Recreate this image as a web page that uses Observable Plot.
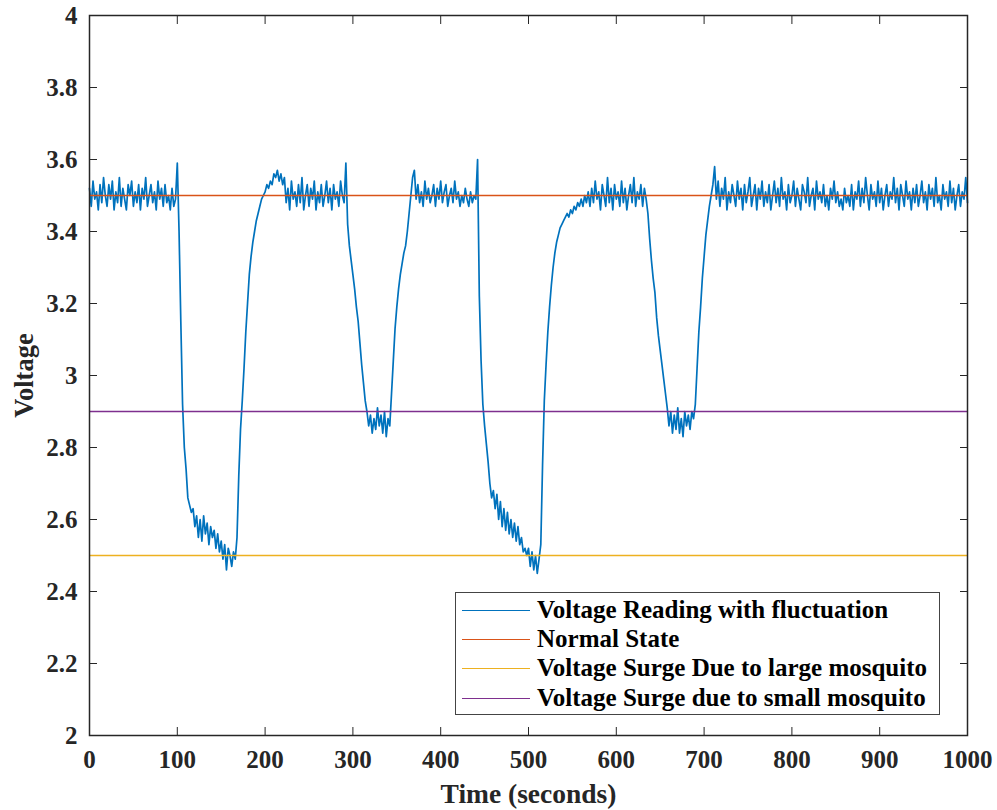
<!DOCTYPE html>
<html>
<head>
<meta charset="utf-8">
<script src="https://cdn.jsdelivr.net/npm/d3@7"></script>
<script src="https://cdn.jsdelivr.net/npm/@observablehq/plot@0.6"></script>
<style>
  html, body { margin: 0; padding: 0; background: #fff; }
  #wrap { position: relative; width: 997px; height: 810px; }
  #legend { position: absolute; left: 455px; top: 592px; width: 483px; height: 121px;
    border: 1.5px solid #444; background: #fff; box-sizing: content-box; }
  .row { position: absolute; left: 0; height: 30px; display: flex; align-items: center; white-space: nowrap; }
  .sw { width: 68px; height: 0; margin-left: 6px; border-top: 1.6px solid; }
  .lab { margin-left: 7px; font-family: "Liberation Serif", serif; font-weight: bold; font-size: 25px; color: #000; }
</style>
</head>
<body>
<div id="wrap"></div>
<script>
const xTicks = [0, 100, 200, 300, 400, 500, 600, 700, 800, 900, 1000];
const yTicks = [2, 2.2, 2.4, 2.6, 2.8, 3, 3.2, 3.4, 3.6, 3.8, 4];

const normalLevel = [3.5];
const largeLevel = [2.5];
const smallLevel = [2.9];

const seriesNames = [
  "Voltage Reading with fluctuation",
  "Normal State",
  "Voltage Surge Due to large mosquito",
  "Voltage Surge due to small mosquito"
];
const seriesColors = ["#0072BD", "#D95319", "#EDB120", "#7E2F8E"];

const segmentStarts = [0, 100, 224, 292, 374, 442, 572, 636, 716];

const seg1 = [3.52,3.47,3.54,3.49,3.51,3.46,3.53,3.48,3.55,3.50,
  3.47,3.53,3.49,3.54,3.46,3.51,3.48,3.55,3.47,3.52,
  3.49,3.46,3.53,3.50,3.54,3.47,3.51,3.48,3.53,3.46,
  3.52,3.49,3.55,3.47,3.50,3.53,3.48,3.51,3.46,3.54,
  3.49,3.52,3.47,3.53,3.48,3.50,3.46,3.52,3.47,3.49];
const seg2 = [3.59,3.40,3.15,2.92,2.80,2.74,2.66,2.64,2.62,2.63,
  2.58,2.61,2.55,2.60,2.54,2.61,2.56,2.59,2.53,2.58,
  2.55,2.57,2.52,2.56,2.51,2.54,2.49,2.53,2.46,2.52,
  2.50,2.47,2.51,2.49,2.55,2.72,2.85,2.93,3.02,3.12,
  3.20,3.28,3.33,3.37,3.40,3.43,3.45,3.47,3.49,3.50,
  3.51,3.53,3.52,3.54,3.53,3.56,3.55,3.57,3.54,3.56,
  3.53,3.55];
const seg3 = [3.48,3.52,3.46,3.54,3.49,3.51,3.47,3.53,3.48,3.55,
  3.46,3.50,3.53,3.47,3.52,3.49,3.54,3.46,3.51,3.48,
  3.53,3.47,3.50,3.54,3.48,3.52,3.46,3.53,3.49,3.51,
  3.47,3.54,3.50,3.48];
const seg4 = [3.59,3.42,3.36,3.32,3.28,3.24,3.19,3.15,3.09,3.03,
  2.98,2.93,2.90,2.86,2.89,2.84,2.88,2.85,2.91,2.86,
  2.89,2.84,2.90,2.83,2.88,2.86,2.95,3.04,3.13,3.19,
  3.24,3.28,3.31,3.34,3.36,3.40,3.45,3.50,3.55,3.57,
  3.49];
const seg5 = [3.53,3.48,3.51,3.47,3.54,3.49,3.52,3.48,3.50,3.53,
  3.47,3.52,3.49,3.54,3.48,3.51,3.53,3.47,3.50,3.52,
  3.48,3.54,3.49,3.51,3.47,3.50,3.48,3.52,3.49,3.47,
  3.51,3.48,3.50,3.49];
const seg6 = [3.60,3.22,3.04,2.92,2.86,2.81,2.76,2.70,2.66,2.68,
  2.63,2.67,2.60,2.65,2.58,2.63,2.57,2.62,2.56,2.60,
  2.55,2.59,2.54,2.58,2.53,2.55,2.51,2.52,2.50,2.52,
  2.47,2.51,2.46,2.50,2.45,2.49,2.53,2.75,2.93,3.03,
  3.12,3.19,3.25,3.30,3.34,3.37,3.39,3.41,3.42,3.43,
  3.44,3.45,3.44,3.46,3.45,3.47,3.46,3.48,3.47,3.49,
  3.47,3.50,3.48,3.51,3.47];
const seg7 = [3.52,3.48,3.54,3.49,3.51,3.46,3.53,3.50,3.47,3.55,
  3.48,3.52,3.46,3.53,3.49,3.51,3.47,3.54,3.48,3.52,
  3.46,3.50,3.53,3.48,3.55,3.47,3.51,3.49,3.53,3.47,
  3.52,3.49];
const seg8 = [3.45,3.38,3.32,3.27,3.23,3.16,3.11,3.07,3.03,2.99,
  2.95,2.91,2.86,2.90,2.84,2.89,2.85,2.91,2.84,2.88,
  2.83,2.90,2.86,2.89,2.85,2.90,2.88,2.92,3.02,3.12,
  3.19,3.27,3.33,3.39,3.43,3.47,3.50,3.53,3.58,3.49];
const seg9 = [3.54,3.47,3.52,3.49,3.55,3.46,3.51,3.48,3.53,3.50,
  3.47,3.54,3.49,3.52,3.46,3.53,3.48,3.51,3.55,3.47,
  3.50,3.53,3.46,3.52,3.49,3.54,3.47,3.51,3.48,3.53,
  3.46,3.50,3.54,3.48,3.52,3.47,3.55,3.49,3.51,3.46,
  3.53,3.48,3.50,3.54,3.47,3.52,3.49,3.46,3.53,3.51,
  3.48,3.55,3.47,3.50,3.52,3.46,3.54,3.49,3.51,3.48,
  3.53,3.47,3.50,3.46,3.52,3.49,3.54,3.48,3.51,3.47,
  3.49,3.46,3.52,3.48,3.50,3.47,3.53,3.46,3.51,3.49,
  3.54,3.47,3.52,3.48,3.55,3.50,3.46,3.53,3.49,3.51,
  3.47,3.54,3.48,3.52,3.46,3.50,3.53,3.47,3.51,3.49,
  3.55,3.48,3.52,3.46,3.53,3.50,3.47,3.54,3.49,3.51,
  3.46,3.52,3.48,3.53,3.47,3.50,3.54,3.48,3.51,3.46,
  3.53,3.49,3.52,3.47,3.55,3.48,3.50,3.46,3.53,3.49,
  3.51,3.47,3.54,3.48,3.52,3.46,3.50,3.53,
  3.47,3.51,3.49,3.55,3.48];

const segments = [seg1, seg2, seg3, seg4, seg5, seg6, seg7, seg8, seg9];
const readings = segments.flatMap((vals, k) =>
  vals.map((v, i) => ({t: segmentStarts[k] + 2 * i, v})));

const fmt = d => String(+d.toFixed(1));
const axisColor = "#262626";
const serif = "Liberation Serif";

const chart = Plot.plot({
  width: 997,
  height: 810,
  marginLeft: 89,
  marginRight: 30,
  marginTop: 15,
  marginBottom: 75,
  style: {fontFamily: serif, fontWeight: "bold", fontSize: "25px", color: axisColor, background: "#fff"},
  x: {domain: [0, 1000]},
  y: {domain: [2, 4]},
  marks: [
    Plot.line(readings, {x: "t", y: "v", stroke: seriesColors[0], strokeWidth: 1.7}),
    Plot.ruleY(normalLevel, {stroke: seriesColors[1], strokeWidth: 1.6}),
    Plot.ruleY(largeLevel, {stroke: seriesColors[2], strokeWidth: 1.6}),
    Plot.ruleY(smallLevel, {stroke: seriesColors[3], strokeWidth: 1.6}),
    Plot.frame({stroke: axisColor, strokeWidth: 1.5}),
    Plot.axisX({anchor: "bottom", ticks: xTicks, tickSize: -8, tickPadding: 23, tickFormat: fmt, label: null, stroke: axisColor, fill: axisColor, fontFamily: serif}),
    Plot.axisX({anchor: "top", ticks: xTicks, tickSize: -8, tickFormat: () => "", label: null, stroke: axisColor}),
    Plot.axisY({anchor: "left", ticks: yTicks, tickSize: -8, tickPadding: 20, tickFormat: fmt, label: null, stroke: axisColor, fill: axisColor, fontFamily: serif}),
    Plot.axisY({anchor: "right", ticks: yTicks, tickSize: -8, tickFormat: () => "", label: null, stroke: axisColor}),
    Plot.text(["Time (seconds)"], {frameAnchor: "bottom", dy: 67, fontSize: 27.5, fontFamily: serif, fill: axisColor, textAnchor: "middle"}),
    Plot.text(["Voltage"], {frameAnchor: "left", dx: -65, rotate: -90, fontSize: 26.5, fontFamily: serif, fill: axisColor, textAnchor: "middle", lineAnchor: "middle"})
  ]
});

const wrap = document.getElementById("wrap");
wrap.appendChild(chart);

const legend = document.createElement("div");
legend.id = "legend";
const rowTops = [2, 31, 60, 90];
seriesNames.forEach((name, i) => {
  const row = document.createElement("div");
  row.className = "row";
  row.style.top = rowTops[i] + "px";
  const sw = document.createElement("div");
  sw.className = "sw";
  sw.style.borderTopColor = seriesColors[i];
  const lab = document.createElement("span");
  lab.className = "lab";
  lab.textContent = name;
  row.appendChild(sw);
  row.appendChild(lab);
  legend.appendChild(row);
});
wrap.appendChild(legend);
</script>
</body>
</html>
